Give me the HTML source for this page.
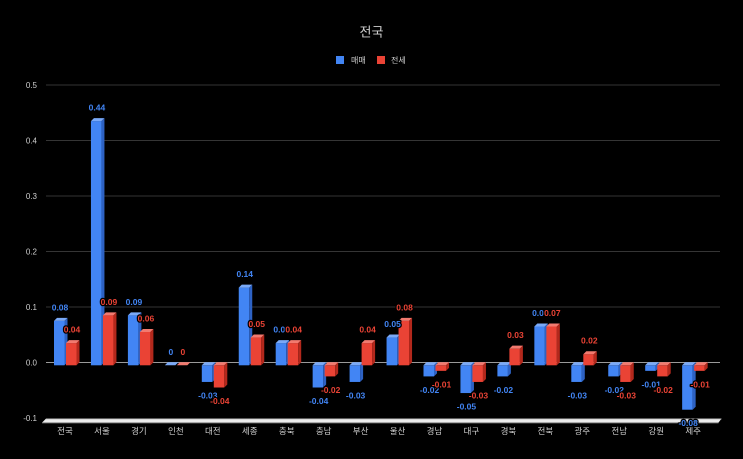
<!DOCTYPE html>
<html><head><meta charset="utf-8"><style>
html,body{margin:0;padding:0;background:#000;}
svg{display:block;}
.ax{font-family:"Liberation Sans","Noto Sans CJK KR",sans-serif;fill:#cfcfcf;}
.dl{font-family:"Liberation Sans",sans-serif;font-weight:bold;font-size:8.5px;text-anchor:middle;stroke:#000;stroke-width:2.5px;paint-order:stroke;stroke-linejoin:round;}
.b .f{fill:#4285f4}.b .t{fill:#7aa9f7}.b .s{fill:#2d62c4}
.r .f{fill:#ea4335}.r .t{fill:#f27a6f}.r .s{fill:#b3281c}
.bl{fill:#4285f4}.rl{fill:#ea4335}
</style></head><body>
<svg width="743" height="459" viewBox="0 0 743 459" xmlns="http://www.w3.org/2000/svg">
<rect width="743" height="459" fill="#000"/>
<text class="ax" x="371.5" y="36.5" font-size="13" text-anchor="middle" fill="#d4d4d4">전국</text>
<rect x="336" y="56" width="8" height="8" fill="#4285f4"/>
<text class="ax" x="351" y="63" font-size="8">매매</text>
<rect x="377" y="56" width="8" height="8" fill="#ea4335"/>
<text class="ax" x="391" y="63" font-size="8">전세</text>
<g stroke-width="1" shape-rendering="crispEdges">
<line x1="46" x2="720" y1="84.8" y2="84.8" stroke="#353535"/>
<line x1="46" x2="720" y1="140.3" y2="140.3" stroke="#353535"/>
<line x1="46" x2="720" y1="195.8" y2="195.8" stroke="#353535"/>
<line x1="46" x2="720" y1="251.3" y2="251.3" stroke="#353535"/>
<line x1="46" x2="720" y1="306.8" y2="306.8" stroke="#353535"/>
<line x1="46" x2="720" y1="362.3" y2="362.3" stroke="#9a9a9a"/>
</g>
<g class="ax" font-size="8" text-anchor="end">
<text x="37" y="87.8">0.5</text>
<text x="37" y="143.3">0.4</text>
<text x="37" y="198.8">0.3</text>
<text x="37" y="254.3">0.2</text>
<text x="37" y="309.8">0.1</text>
<text x="37" y="365.3">0.0</text>
<text x="37" y="420.8">-0.1</text>
</g>
<polygon points="46,418.6 721.5,418.6 718.5,422.6 42,422.6" fill="#ececec"/>
<line x1="46" x2="721.5" y1="419" y2="419" stroke="#bdbdbd" stroke-width="0.8"/>
<line x1="42" x2="718.5" y1="423" y2="423" stroke="#777" stroke-width="0.8"/>

<!-- bars: blue then red per category -->
<g class="b" transform="translate(54,0)"><rect class="f" x="0" y="320.9" width="10.5" height="44.4"/><polygon class="t" points="0,320.9 10.5,320.9 13.5,317.9 3,317.9"/><polygon class="s" points="10.5,320.9 13.5,317.9 13.5,362.3 10.5,365.3"/></g>
<g class="r" transform="translate(66,0)"><rect class="f" x="0" y="343.1" width="10.5" height="22.2"/><polygon class="t" points="0,343.1 10.5,343.1 13.5,340.1 3,340.1"/><polygon class="s" points="10.5,343.1 13.5,340.1 13.5,362.3 10.5,365.3"/></g>

<g class="b" transform="translate(90.95,0)"><rect class="f" x="0" y="121.1" width="10.5" height="244.2"/><polygon class="t" points="0,121.1 10.5,121.1 13.5,118.1 3,118.1"/><polygon class="s" points="10.5,121.1 13.5,118.1 13.5,362.3 10.5,365.3"/></g>
<g class="r" transform="translate(102.95,0)"><rect class="f" x="0" y="315.35" width="10.5" height="49.95"/><polygon class="t" points="0,315.35 10.5,315.35 13.5,312.35 3,312.35"/><polygon class="s" points="10.5,315.35 13.5,312.35 13.5,362.3 10.5,365.3"/></g>

<g class="b" transform="translate(127.9,0)"><rect class="f" x="0" y="315.35" width="10.5" height="49.95"/><polygon class="t" points="0,315.35 10.5,315.35 13.5,312.35 3,312.35"/><polygon class="s" points="10.5,315.35 13.5,312.35 13.5,362.3 10.5,365.3"/></g>
<g class="r" transform="translate(139.9,0)"><rect class="f" x="0" y="332" width="10.5" height="33.3"/><polygon class="t" points="0,332 10.5,332 13.5,329 3,329"/><polygon class="s" points="10.5,332 13.5,329 13.5,362.3 10.5,365.3"/></g>

<g class="b" transform="translate(164.85,0)"><polygon class="t" points="0,365.3 10.5,365.3 13.5,362.3 3,362.3"/></g>
<g class="r" transform="translate(176.85,0)"><polygon class="t" points="0,365.3 10.5,365.3 13.5,362.3 3,362.3"/></g>

<g class="b" transform="translate(201.8,0)"><rect class="f" x="0" y="365.3" width="10.5" height="16.65"/><polygon class="t" points="0,365.3 10.5,365.3 13.5,362.3 3,362.3"/><polygon class="s" points="10.5,365.3 13.5,362.3 13.5,378.95 10.5,381.95"/></g>
<g class="r" transform="translate(213.8,0)"><rect class="f" x="0" y="365.3" width="10.5" height="22.2"/><polygon class="t" points="0,365.3 10.5,365.3 13.5,362.3 3,362.3"/><polygon class="s" points="10.5,365.3 13.5,362.3 13.5,384.5 10.5,387.5"/></g>

<g class="b" transform="translate(238.75,0)"><rect class="f" x="0" y="287.6" width="10.5" height="77.7"/><polygon class="t" points="0,287.6 10.5,287.6 13.5,284.6 3,284.6"/><polygon class="s" points="10.5,287.6 13.5,284.6 13.5,362.3 10.5,365.3"/></g>
<g class="r" transform="translate(250.75,0)"><rect class="f" x="0" y="337.55" width="10.5" height="27.75"/><polygon class="t" points="0,337.55 10.5,337.55 13.5,334.55 3,334.55"/><polygon class="s" points="10.5,337.55 13.5,334.55 13.5,362.3 10.5,365.3"/></g>

<g class="b" transform="translate(275.7,0)"><rect class="f" x="0" y="343.1" width="10.5" height="22.2"/><polygon class="t" points="0,343.1 10.5,343.1 13.5,340.1 3,340.1"/><polygon class="s" points="10.5,343.1 13.5,340.1 13.5,362.3 10.5,365.3"/></g>
<g class="r" transform="translate(287.7,0)"><rect class="f" x="0" y="343.1" width="10.5" height="22.2"/><polygon class="t" points="0,343.1 10.5,343.1 13.5,340.1 3,340.1"/><polygon class="s" points="10.5,343.1 13.5,340.1 13.5,362.3 10.5,365.3"/></g>

<g class="b" transform="translate(312.65,0)"><rect class="f" x="0" y="365.3" width="10.5" height="22.2"/><polygon class="t" points="0,365.3 10.5,365.3 13.5,362.3 3,362.3"/><polygon class="s" points="10.5,365.3 13.5,362.3 13.5,384.5 10.5,387.5"/></g>
<g class="r" transform="translate(324.65,0)"><rect class="f" x="0" y="365.3" width="10.5" height="11.1"/><polygon class="t" points="0,365.3 10.5,365.3 13.5,362.3 3,362.3"/><polygon class="s" points="10.5,365.3 13.5,362.3 13.5,373.4 10.5,376.4"/></g>

<g class="b" transform="translate(349.6,0)"><rect class="f" x="0" y="365.3" width="10.5" height="16.65"/><polygon class="t" points="0,365.3 10.5,365.3 13.5,362.3 3,362.3"/><polygon class="s" points="10.5,365.3 13.5,362.3 13.5,378.95 10.5,381.95"/></g>
<g class="r" transform="translate(361.6,0)"><rect class="f" x="0" y="343.1" width="10.5" height="22.2"/><polygon class="t" points="0,343.1 10.5,343.1 13.5,340.1 3,340.1"/><polygon class="s" points="10.5,343.1 13.5,340.1 13.5,362.3 10.5,365.3"/></g>

<g class="b" transform="translate(386.55,0)"><rect class="f" x="0" y="337.55" width="10.5" height="27.75"/><polygon class="t" points="0,337.55 10.5,337.55 13.5,334.55 3,334.55"/><polygon class="s" points="10.5,337.55 13.5,334.55 13.5,362.3 10.5,365.3"/></g>
<g class="r" transform="translate(398.55,0)"><rect class="f" x="0" y="320.9" width="10.5" height="44.4"/><polygon class="t" points="0,320.9 10.5,320.9 13.5,317.9 3,317.9"/><polygon class="s" points="10.5,320.9 13.5,317.9 13.5,362.3 10.5,365.3"/></g>

<g class="b" transform="translate(423.5,0)"><rect class="f" x="0" y="365.3" width="10.5" height="11.1"/><polygon class="t" points="0,365.3 10.5,365.3 13.5,362.3 3,362.3"/><polygon class="s" points="10.5,365.3 13.5,362.3 13.5,373.4 10.5,376.4"/></g>
<g class="r" transform="translate(435.5,0)"><rect class="f" x="0" y="365.3" width="10.5" height="5.55"/><polygon class="t" points="0,365.3 10.5,365.3 13.5,362.3 3,362.3"/><polygon class="s" points="10.5,365.3 13.5,362.3 13.5,367.85 10.5,370.85"/></g>

<g class="b" transform="translate(460.45,0)"><rect class="f" x="0" y="365.3" width="10.5" height="27.75"/><polygon class="t" points="0,365.3 10.5,365.3 13.5,362.3 3,362.3"/><polygon class="s" points="10.5,365.3 13.5,362.3 13.5,390.05 10.5,393.05"/></g>
<g class="r" transform="translate(472.45,0)"><rect class="f" x="0" y="365.3" width="10.5" height="16.65"/><polygon class="t" points="0,365.3 10.5,365.3 13.5,362.3 3,362.3"/><polygon class="s" points="10.5,365.3 13.5,362.3 13.5,378.95 10.5,381.95"/></g>

<g class="b" transform="translate(497.4,0)"><rect class="f" x="0" y="365.3" width="10.5" height="11.1"/><polygon class="t" points="0,365.3 10.5,365.3 13.5,362.3 3,362.3"/><polygon class="s" points="10.5,365.3 13.5,362.3 13.5,373.4 10.5,376.4"/></g>
<g class="r" transform="translate(509.4,0)"><rect class="f" x="0" y="348.65" width="10.5" height="16.65"/><polygon class="t" points="0,348.65 10.5,348.65 13.5,345.65 3,345.65"/><polygon class="s" points="10.5,348.65 13.5,345.65 13.5,362.3 10.5,365.3"/></g>

<g class="b" transform="translate(534.35,0)"><rect class="f" x="0" y="326.45" width="10.5" height="38.85"/><polygon class="t" points="0,326.45 10.5,326.45 13.5,323.45 3,323.45"/><polygon class="s" points="10.5,326.45 13.5,323.45 13.5,362.3 10.5,365.3"/></g>
<g class="r" transform="translate(546.35,0)"><rect class="f" x="0" y="326.45" width="10.5" height="38.85"/><polygon class="t" points="0,326.45 10.5,326.45 13.5,323.45 3,323.45"/><polygon class="s" points="10.5,326.45 13.5,323.45 13.5,362.3 10.5,365.3"/></g>

<g class="b" transform="translate(571.3,0)"><rect class="f" x="0" y="365.3" width="10.5" height="16.65"/><polygon class="t" points="0,365.3 10.5,365.3 13.5,362.3 3,362.3"/><polygon class="s" points="10.5,365.3 13.5,362.3 13.5,378.95 10.5,381.95"/></g>
<g class="r" transform="translate(583.3,0)"><rect class="f" x="0" y="354.2" width="10.5" height="11.1"/><polygon class="t" points="0,354.2 10.5,354.2 13.5,351.2 3,351.2"/><polygon class="s" points="10.5,354.2 13.5,351.2 13.5,362.3 10.5,365.3"/></g>

<g class="b" transform="translate(608.25,0)"><rect class="f" x="0" y="365.3" width="10.5" height="11.1"/><polygon class="t" points="0,365.3 10.5,365.3 13.5,362.3 3,362.3"/><polygon class="s" points="10.5,365.3 13.5,362.3 13.5,373.4 10.5,376.4"/></g>
<g class="r" transform="translate(620.25,0)"><rect class="f" x="0" y="365.3" width="10.5" height="16.65"/><polygon class="t" points="0,365.3 10.5,365.3 13.5,362.3 3,362.3"/><polygon class="s" points="10.5,365.3 13.5,362.3 13.5,378.95 10.5,381.95"/></g>

<g class="b" transform="translate(645.2,0)"><rect class="f" x="0" y="365.3" width="10.5" height="5.55"/><polygon class="t" points="0,365.3 10.5,365.3 13.5,362.3 3,362.3"/><polygon class="s" points="10.5,365.3 13.5,362.3 13.5,367.85 10.5,370.85"/></g>
<g class="r" transform="translate(657.2,0)"><rect class="f" x="0" y="365.3" width="10.5" height="11.1"/><polygon class="t" points="0,365.3 10.5,365.3 13.5,362.3 3,362.3"/><polygon class="s" points="10.5,365.3 13.5,362.3 13.5,373.4 10.5,376.4"/></g>

<g class="b" transform="translate(682.15,0)"><rect class="f" x="0" y="365.3" width="10.5" height="44.4"/><polygon class="t" points="0,365.3 10.5,365.3 13.5,362.3 3,362.3"/><polygon class="s" points="10.5,365.3 13.5,362.3 13.5,406.7 10.5,409.7"/></g>
<g class="r" transform="translate(694.15,0)"><rect class="f" x="0" y="365.3" width="10.5" height="5.55"/><polygon class="t" points="0,365.3 10.5,365.3 13.5,362.3 3,362.3"/><polygon class="s" points="10.5,365.3 13.5,362.3 13.5,367.85 10.5,370.85"/></g>

<!-- x labels -->
<g class="ax" font-size="8.5" text-anchor="middle" fill="#d8d8d8">
<text x="65" y="434">전국</text>
<text x="101.95" y="434">서울</text>
<text x="138.9" y="434">경기</text>
<text x="175.85" y="434">인천</text>
<text x="212.8" y="434">대전</text>
<text x="249.75" y="434">세종</text>
<text x="286.7" y="434">충북</text>
<text x="323.65" y="434">충남</text>
<text x="360.6" y="434">부산</text>
<text x="397.55" y="434">울산</text>
<text x="434.5" y="434">경남</text>
<text x="471.45" y="434">대구</text>
<text x="508.4" y="434">경북</text>
<text x="545.35" y="434">전북</text>
<text x="582.3" y="434">광주</text>
<text x="619.25" y="434">전남</text>
<text x="656.2" y="434">강원</text>
<text x="693.15" y="434">제주</text>
</g>

<!-- blue labels -->
<g class="dl bl">
<text x="60" y="310.4">0.08</text>
<text x="96.95" y="110.6">0.44</text>
<text x="133.9" y="304.85">0.09</text>
<text x="170.85" y="354.8">0</text>
<text x="207.8" y="398.45">-0.03</text>
<text x="244.75" y="277.1">0.14</text>
<text x="281.7" y="332.6">0.04</text>
<text x="318.65" y="404">-0.04</text>
<text x="355.6" y="398.45">-0.03</text>
<text x="392.55" y="327.05">0.05</text>
<text x="429.5" y="392.9">-0.02</text>
<text x="466.45" y="409.55">-0.05</text>
<text x="503.4" y="392.9">-0.02</text>
<text x="540.35" y="315.95">0.07</text>
<text x="577.3" y="398.45">-0.03</text>
<text x="614.25" y="392.9">-0.02</text>
<text x="651.2" y="387.35">-0.01</text>
<text x="688.15" y="426.2">-0.08</text>
</g>
<!-- red labels -->
<g class="dl rl">
<text x="72" y="332.6">0.04</text>
<text x="108.95" y="304.85">0.09</text>
<text x="145.9" y="321.5">0.06</text>
<text x="182.85" y="354.8">0</text>
<text x="219.8" y="404">-0.04</text>
<text x="256.75" y="327.05">0.05</text>
<text x="293.7" y="332.6">0.04</text>
<text x="330.65" y="392.9">-0.02</text>
<text x="367.6" y="332.6">0.04</text>
<text x="404.55" y="310.4">0.08</text>
<text x="441.5" y="387.35">-0.01</text>
<text x="478.45" y="398.45">-0.03</text>
<text x="515.4" y="338.15">0.03</text>
<text x="552.35" y="315.95">0.07</text>
<text x="589.3" y="343.7">0.02</text>
<text x="626.25" y="398.45">-0.03</text>
<text x="663.2" y="392.9">-0.02</text>
<text x="700.15" y="387.35">-0.01</text>
</g>
</svg>
</body></html>
